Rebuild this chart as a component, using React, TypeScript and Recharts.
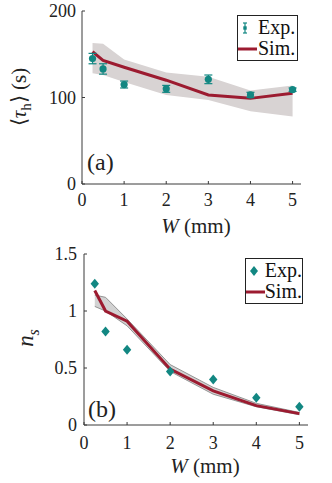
import React from 'react';
import { ComposedChart, Line, Area, Scatter, ErrorBar, XAxis, YAxis } from 'recharts';

const W = [0.25, 0.5, 1, 2, 3, 4, 5];
const xTicks = [0, 1, 2, 3, 4, 5];

const tauExp = [145, 133, 115, 110, 121, 103, 109];
const tauErr = [6, 6, 4, 4, 5, 3, 2];
const tauSim = [153, 143, 135, 120, 103, 99, 105];
const tauLow = [128, 126, 118, 103, 97, 84, 78];
const tauHigh = [163, 162, 144, 129, 124, 108, 114];
const tauTicks = [0, 100, 200];

const nsExp = [1.24, 0.82, 0.66, 0.47, 0.4, 0.24, 0.16];
const nsSim = [1.18, 1.0, 0.91, 0.49, 0.3, 0.17, 0.1];
const nsLow = [1.04, 1.0, 0.87, 0.47, 0.27, 0.16, 0.09];
const nsHigh = [1.14, 1.12, 0.93, 0.53, 0.33, 0.19, 0.11];
const nsTicks = [0, 0.5, 1, 1.5];

const dataA = W.map((w, i) => ({ w, exp: tauExp[i], err: tauErr[i], sim: tauSim[i], band: [tauLow[i], tauHigh[i]] }));
const dataB = W.map((w, i) => ({ w, exp: nsExp[i], sim: nsSim[i], band: [nsLow[i], nsHigh[i]] }));

const TEAL = '#128782';
const RED = '#9c1b30';
const AXIS = '#3a3a3a';
const FONT = "'Liberation Serif', 'Times New Roman', serif";
const TICK_FS = 18;

const tickStyle = { fontSize: TICK_FS, fill: '#222', fontFamily: FONT };

const Diamond = (props: any) => {
  const { cx, cy } = props;
  if (cx == null || cy == null) return null;
  return <polygon points={`${cx},${cy - 5} ${cx + 4.2},${cy} ${cx},${cy + 5} ${cx - 4.2},${cy}`} fill={TEAL} />;
};

const Dot = (props: any) => {
  const { cx, cy } = props;
  if (cx == null || cy == null) return null;
  return <circle cx={cx} cy={cy} r={3.6} fill={TEAL} />;
};

const LegendBox = ({ kind, left, top, width }: { kind: 'a' | 'b'; left: number; top: number; width: number }) => (
  <div
    style={{
      position: 'absolute',
      left,
      top,
      border: '1.3px solid #222',
      background: '#fff',
      width,
      height: 46,
      boxSizing: 'border-box',
      fontFamily: FONT,
      fontSize: 20,
      color: '#111',
      lineHeight: '21px',
      padding: '1px 0 0 0',
    }}
  >
    <div style={{ display: 'flex', alignItems: 'center', height: 21 }}>
      <svg width={20} height={20}>
        {kind === 'a' ? (
          <g stroke={TEAL} strokeWidth={1.2}>
            <line x1={7} y1={5} x2={7} y2={15} />
            <line x1={5} y1={5} x2={9} y2={5} />
            <line x1={5} y1={15} x2={9} y2={15} />
            <rect x={5.3} y={8.3} width={3.4} height={3.4} fill={TEAL} stroke="none" />
          </g>
        ) : (
          <polygon points="8,5 12,10 8,15 4,10" fill={TEAL} />
        )}
      </svg>
      <span>Exp.</span>
    </div>
    <div style={{ display: 'flex', alignItems: 'center', height: 21 }}>
      <svg width={20} height={20}>
        <line x1={0} y1={10} x2={19} y2={10} stroke={RED} strokeWidth={3} />
      </svg>
      <span>Sim.</span>
    </div>
  </div>
);

const Titles = () => (
  <svg width={332} height={483} style={{ position: 'absolute', left: 0, top: 0, pointerEvents: 'none' }}>
    <g fontFamily={FONT} fill="#222">
      <text transform="translate(26,97) rotate(-90)" textAnchor="middle" fontSize={21}>
        {'⟨'}
        <tspan fontStyle="italic">τ</tspan>
        <tspan fontSize={15} dy={5}>h</tspan>
        <tspan dy={-5}>{'⟩ (s)'}</tspan>
      </text>
      <text x={196} y={233} textAnchor="middle" fontSize={21}>
        <tspan fontStyle="italic">W</tspan> (mm)
      </text>
      <text x={87} y={170} fontSize={24}>(a)</text>

      <text transform="translate(33,338) rotate(-90)" textAnchor="middle" fontSize={23}>
        <tspan fontStyle="italic">n</tspan>
        <tspan fontStyle="italic" fontSize={16} dy={6}>s</tspan>
      </text>
      <text x={205} y={473} textAnchor="middle" fontSize={21}>
        <tspan fontStyle="italic">W</tspan> (mm)
      </text>
      <text x={88} y={417} fontSize={24}>(b)</text>
    </g>
  </svg>
);

export default function App() {
  return (
    <div style={{ position: 'absolute', left: 0, top: 0, width: 332, height: 483, background: '#fff' }}>
      <div style={{ position: 'absolute', left: 0, top: 0 }}>
        <ComposedChart width={332} height={240} data={dataA} margin={{ top: 11, right: 31, bottom: 26, left: 0 }}>
          <XAxis
            xAxisId="b"
            dataKey="w"
            type="number"
            domain={[0, 5.2]}
            ticks={xTicks}
            height={30}
            tickSize={-3}
            tickMargin={12}
            stroke={AXIS}
            tick={tickStyle}
            allowDataOverflow
          />
          <XAxis xAxisId="t" dataKey="w" type="number" domain={[0, 5.2]} ticks={xTicks} orientation="top" height={0} tickSize={-3} tick={false} stroke={AXIS} allowDataOverflow />
          <YAxis
            yAxisId="l"
            type="number"
            domain={[0, 200]}
            ticks={tauTicks}
            width={82}
            tickSize={-3}
            tickMargin={9}
            stroke={AXIS}
            tick={tickStyle}
            allowDataOverflow
          />
          <YAxis yAxisId="r" orientation="right" type="number" domain={[0, 200]} ticks={tauTicks} width={0} tickSize={-3} tick={false} stroke={AXIS} />
          <Area xAxisId="b" yAxisId="l" dataKey="band" type="linear" fill="#d8d3d3" fillOpacity={1} stroke="none" isAnimationActive={false} dot={false} activeDot={false} />
          <Line xAxisId="b" yAxisId="l" dataKey="sim" type="linear" stroke={RED} strokeWidth={3} dot={false} isAnimationActive={false} />
          <Scatter xAxisId="b" yAxisId="l" dataKey="exp" fill={TEAL} shape={<Dot />} isAnimationActive={false}>
            <ErrorBar dataKey="err" direction="y" width={4} stroke={TEAL} strokeWidth={1.2} isAnimationActive={false} />
          </Scatter>
        </ComposedChart>
      </div>
      <div style={{ position: 'absolute', left: 0, top: 240 }}>
        <ComposedChart width={332} height={243} data={dataB} margin={{ top: 14, right: 24, bottom: 28, left: 0 }}>
          <XAxis
            xAxisId="b"
            dataKey="w"
            type="number"
            domain={[0, 5.2]}
            ticks={xTicks}
            height={30}
            tickSize={-3}
            tickMargin={14}
            stroke={AXIS}
            tick={tickStyle}
            allowDataOverflow
          />
          <XAxis xAxisId="t" dataKey="w" type="number" domain={[0, 5.2]} ticks={xTicks} orientation="top" height={0} tickSize={-3} tick={false} stroke={AXIS} allowDataOverflow />
          <YAxis
            yAxisId="l"
            type="number"
            domain={[0, 1.5]}
            ticks={nsTicks}
            width={84}
            tickSize={-3}
            tickMargin={10}
            stroke={AXIS}
            tick={tickStyle}
            tickFormatter={(v: number) => String(v)}
            allowDataOverflow
          />
          <YAxis yAxisId="r" orientation="right" type="number" domain={[0, 1.5]} ticks={nsTicks} width={0} tickSize={-3} tick={false} stroke={AXIS} />
          <Area xAxisId="b" yAxisId="l" dataKey="band" type="linear" fill="#d2d2d2" fillOpacity={1} stroke="#8a8a8a" strokeWidth={0.9} isAnimationActive={false} dot={false} activeDot={false} />
          <Line xAxisId="b" yAxisId="l" dataKey="sim" type="linear" stroke={RED} strokeWidth={3} dot={false} isAnimationActive={false} />
          <Scatter xAxisId="b" yAxisId="l" dataKey="exp" fill={TEAL} shape={<Diamond />} isAnimationActive={false} />
        </ComposedChart>
      </div>
      <LegendBox kind="a" left={237} top={15} width={61} />
      <LegendBox kind="b" left={245} top={258} width={58} />
      <Titles />
    </div>
  );
}
